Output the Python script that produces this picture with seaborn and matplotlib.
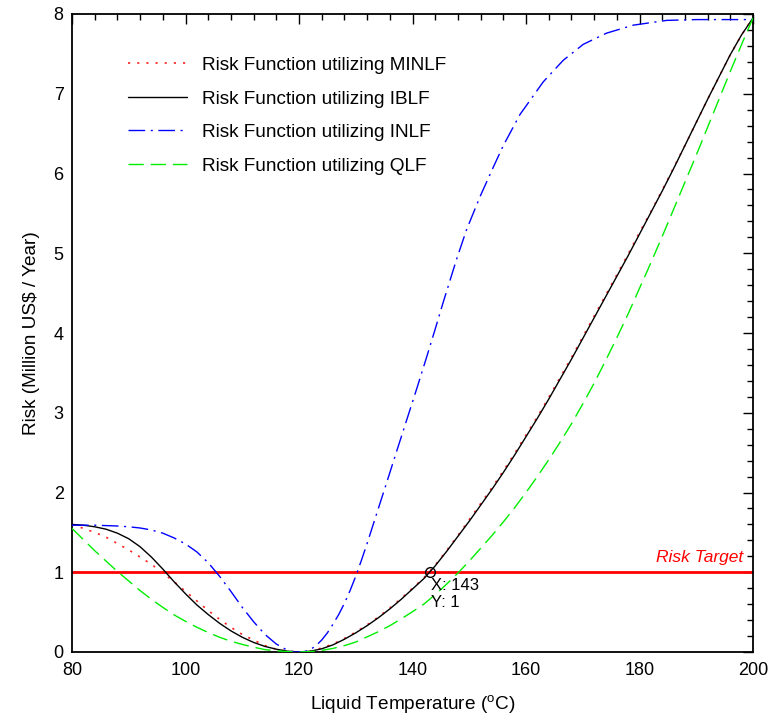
import numpy as np
import pandas as pd
import matplotlib
matplotlib.use("Agg")
import matplotlib.pyplot as plt
from matplotlib.ticker import MultipleLocator
import seaborn as sns

# ---------------- data ----------------
minlf_x = [80, 82, 84, 86, 88, 90, 92, 94, 96, 98, 100, 102, 104, 106, 108, 110, 112, 114,
           116, 118, 120, 122, 124, 126, 128, 130, 132, 134, 136, 138, 140, 142, 144, 146,
           148, 150, 152, 154, 156, 158, 160, 162, 164, 166, 168, 170, 172, 174, 176, 178,
           180, 182, 184, 186, 188, 190, 192, 194, 196, 198, 200]
minlf_y = [1.60, 1.55, 1.50, 1.44, 1.36, 1.28, 1.19, 1.10, 0.99, 0.88, 0.76, 0.64, 0.52,
           0.41, 0.31, 0.22, 0.15, 0.08, 0.035, 0.01, 0.0, 0.01, 0.05, 0.10, 0.17, 0.25,
           0.34, 0.44, 0.55, 0.67, 0.80, 0.93, 1.09, 1.27, 1.46, 1.66, 1.86, 2.06, 2.27,
           2.49, 2.72, 2.95, 3.19, 3.44, 3.69, 3.95, 4.21, 4.47, 4.73, 4.99, 5.26, 5.52,
           5.79, 6.07, 6.35, 6.64, 6.93, 7.21, 7.49, 7.74, 7.95]

iblf_x = [80, 82, 84, 86, 88, 90, 92, 94, 96, 98, 100, 102, 104, 106, 108, 110, 112, 114,
          116, 118, 120, 122, 124, 126, 128, 130, 132, 134, 136, 138, 140, 142, 144, 146,
          148, 150, 152, 154, 156, 158, 160, 162, 164, 166, 168, 170, 172, 174, 176, 178,
          180, 182, 184, 186, 188, 190, 192, 194, 196, 198, 200]
iblf_y = [1.60, 1.59, 1.57, 1.54, 1.49, 1.42, 1.32, 1.19, 1.04, 0.88, 0.73, 0.59, 0.47,
          0.36, 0.265, 0.185, 0.12, 0.07, 0.035, 0.01, 0.0, 0.01, 0.04, 0.09, 0.16, 0.24,
          0.33, 0.43, 0.54, 0.66, 0.79, 0.92, 1.08, 1.26, 1.45, 1.64, 1.84, 2.04, 2.25,
          2.47, 2.70, 2.93, 3.17, 3.42, 3.67, 3.93, 4.19, 4.45, 4.71, 4.97, 5.24, 5.51,
          5.78, 6.06, 6.35, 6.64, 6.93, 7.21, 7.49, 7.74, 7.95]

inlf_x = [80, 84, 88, 90, 92, 94, 96, 98, 100, 102, 104, 106, 108, 110, 112, 114, 116, 118,
          119, 120, 121, 122, 123, 124, 125, 126, 127, 128, 129, 130, 131, 132, 133.69,
          135.45, 137.2, 138.98, 140.74, 142.5, 143.96, 145.43, 147.79, 149.55, 151.9,
          154.24, 156.0, 158.94, 163.05, 166.57, 170.1, 174.2, 178.9, 184.8, 190, 200]
inlf_y = [1.59, 1.59, 1.58, 1.57, 1.555, 1.53, 1.49, 1.43, 1.355, 1.255, 1.12, 0.95, 0.76,
          0.56, 0.38, 0.22, 0.10, 0.02, 0.0, 0.0, 0.005, 0.03, 0.08, 0.15, 0.24, 0.35,
          0.47, 0.61, 0.77, 0.95, 1.15, 1.36, 1.735, 2.125, 2.515, 2.91, 3.30, 3.70,
          4.04, 4.39, 4.93, 5.30, 5.71, 6.08, 6.35, 6.74, 7.15, 7.42, 7.62, 7.76, 7.86,
          7.92, 7.93, 7.93]

qlf_x = [80, 82, 84, 86, 88, 90, 92, 94, 96, 98, 100, 102, 104, 106, 108, 110, 112, 114,
         116, 118, 120, 122, 124, 126, 128, 130, 132, 134, 136, 138, 140, 142, 144, 146,
         148, 150, 152, 154, 156, 158, 160, 162, 164, 166, 168, 170, 172, 174, 176, 178,
         180, 182, 184, 186, 188, 190, 192, 194, 196, 198, 200]
qlf_y = [1.55, 1.41, 1.27, 1.14, 1.01, 0.89, 0.77, 0.66, 0.56, 0.465, 0.385, 0.31, 0.245,
         0.185, 0.135, 0.095, 0.06, 0.03, 0.015, 0.005, 0.0, 0.005, 0.02, 0.045, 0.08,
         0.125, 0.19, 0.255, 0.33, 0.415, 0.505, 0.60, 0.72, 0.85, 0.99, 1.14, 1.30,
         1.46, 1.63, 1.81, 2.00, 2.20, 2.41, 2.63, 2.86, 3.11, 3.37, 3.65, 3.94, 4.24,
         4.56, 4.88, 5.21, 5.55, 5.89, 6.23, 6.58, 6.93, 7.28, 7.62, 7.95]

series_labels = ["Risk Function utilizing MINLF", "Risk Function utilizing IBLF",
                 "Risk Function utilizing INLF", "Risk Function utilizing QLF"]
risk_target = 1.0
tip_x = [143]
tip_y = [1]

# ---------------- figure ----------------
sns.set_theme(style="white")
plt.rcParams["font.family"] = ["Liberation Sans", "DejaVu Sans"]
plt.rcParams["mathtext.default"] = "regular"

fig = plt.figure(figsize=(7.7, 7.17), dpi=100)
ax = fig.add_axes([72 / 770, 1 - 652 / 717, 681 / 770, 638 / 717])

frames = []
for lab, xs, ys in zip(series_labels, [minlf_x, iblf_x, inlf_x, qlf_x],
                       [minlf_y, iblf_y, inlf_y, qlf_y]):
    frames.append(pd.DataFrame({"x": xs, "risk": ys, "series": lab}))
df = pd.concat(frames, ignore_index=True)

styles = {
    series_labels[0]: dict(color="#ff2020", linestyle=(0, (1.3, 4.2)), lw=1.2),
    series_labels[1]: dict(color="black", linestyle="-", lw=1.0),
    series_labels[2]: dict(color="#0000ff", linestyle=(0, (12, 4, 1.5, 4)), lw=1.0),
    series_labels[3]: dict(color="#00ee00", linestyle=(0, (11, 5)), lw=1.0),
}

ax.axhline(risk_target, color="red", lw=2.0, zorder=1)

for lab in series_labels:
    sub = df[df["series"] == lab]
    st = styles[lab]
    sns.lineplot(data=sub, x="x", y="risk", ax=ax, color=st["color"],
                 linestyle=st["linestyle"], linewidth=st["lw"], label=lab,
                 estimator=None, sort=False, zorder=3)

ax.plot(tip_x, tip_y, "o", mfc="none", mec="black", ms=7, mew=1.0, zorder=5)
ax.text(tip_x[0] + 0.2, tip_y[0] - 0.07, f"X: {tip_x[0]}\nY: {tip_y[0]}",
        ha="left", va="top", fontsize=12, color="black", linespacing=1.15, zorder=6)
ax.text(198.3, risk_target + 0.09, "Risk Target", ha="right", va="bottom",
        color="red", style="italic", fontsize=12.5)

ax.set_xlim(80, 200)
ax.set_ylim(0, 8)
ax.xaxis.set_major_locator(MultipleLocator(20))
ax.xaxis.set_minor_locator(MultipleLocator(4))
ax.yaxis.set_major_locator(MultipleLocator(1))
ax.yaxis.set_minor_locator(MultipleLocator(0.2))
ax.tick_params(which="both", direction="in", top=True, right=True, colors="black",
               labelsize=13, width=1.0)
ax.tick_params(axis="x", which="major", length=7, pad=7.5)
ax.tick_params(axis="y", which="major", length=7, pad=6)
ax.tick_params(which="minor", length=4)
for sp in ax.spines.values():
    sp.set_color("black")
    sp.set_linewidth(1.3)

ax.set_xlabel("Liquid Temperature ($^{o}$C)", fontsize=13.7, color="black", labelpad=10)
ax.set_ylabel("Risk (Million US\\$ / Year)", fontsize=13.7, color="black", labelpad=10)

leg = ax.legend(loc="upper left", bbox_to_anchor=(0.082, 0.933), frameon=False,
                fontsize=13.7, handlelength=3.1, handletextpad=0.8,
                labelspacing=0.85, borderpad=0, borderaxespad=0)
for t in leg.get_texts():
    t.set_color("black")

fig.savefig("out.png", dpi=100)
